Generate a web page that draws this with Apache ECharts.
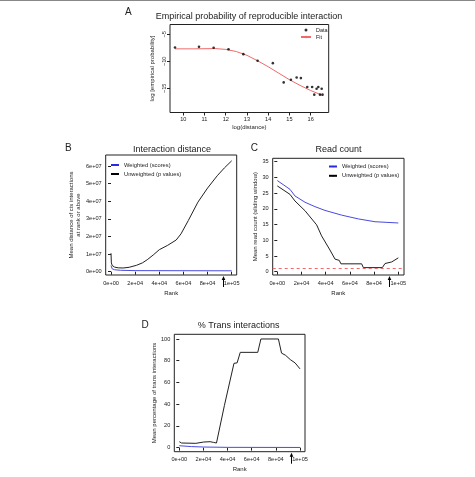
<!DOCTYPE html>
<html>
<head>
<meta charset="utf-8">
<script src="https://cdn.jsdelivr.net/npm/echarts@6/dist/echarts.min.js"></script>
<style>
  html, body { margin: 0; padding: 0; background: #fff; }
  #fig { width: 475px; height: 477px; }
</style>
</head>
<body>
<div id="fig"></div>
<script>
// --- A: empirical probability of reproducible interaction
var logDist = [9.61, 10.74, 11.43, 12.13, 12.83, 13.5, 14.22, 14.73, 15.07, 15.34, 15.54, 15.84, 16.07, 16.17, 16.28, 16.36, 16.44, 16.52, 16.56];
var logProb = [-7.45, -7.33, -7.5, -7.76, -8.68, -9.9, -10.34, -13.9, -13.4, -12.98, -13.1, -14.75, -14.75, -16.16, -15.06, -14.75, -16.16, -15.06, -16.16];
var fitDist = [9.61, 10.5, 11.5, 12.0, 12.5, 13.0, 13.5, 14.0, 14.5, 15.0, 15.5, 16.0, 16.56];
var fitProb = [-7.7, -7.7, -7.65, -7.8, -8.2, -8.9, -9.9, -11.0, -12.2, -13.4, -14.45, -15.4, -16.3];
var distTicks = [10, 11, 12, 13, 14, 15, 16];
var probTicks = [-15, -10, -5];

// --- B: interaction distance
var rankDistUnw = [0, 300, 1000, 3000, 6000, 10000, 15000, 21000, 26000, 30000, 35000, 40000, 47000, 54000, 58000, 64000, 72000, 80000, 88000, 94000, 100000];
var distUnw = [1.05e7, 5.0e6, 3.5e6, 2.6e6, 2.2e6, 2.1e6, 2.5e6, 3.6e6, 5.0e6, 6.8e6, 9.5e6, 1.25e7, 1.5e7, 1.8e7, 2.15e7, 2.9e7, 3.95e7, 4.75e7, 5.45e7, 5.9e7, 6.3e7];
var rankDistW = [0, 300, 1000, 3000, 8000, 20000, 100000];
var distW = [3.5e6, 2.5e6, 1.6e6, 1.1e6, 8e5, 6e5, 5e5];
var distTicksB = [0, 1e7, 2e7, 3e7, 4e7, 5e7, 6e7];
var distLabelsB = ['0e+00', '1e+07', '2e+07', '3e+07', '4e+07', '5e+07', '6e+07'];

// shared rank axis
var rankTicks = [0, 2e4, 4e4, 6e4, 8e4, 1e5];
var rankLabels = ['0e+00', '2e+04', '4e+04', '6e+04', '8e+04', '1e+05'];
var arrowRank = 92500;

// --- C: read count
var rankCountW = [0, 10500, 14600, 22900, 31100, 39400, 53200, 66900, 80700, 100000];
var countW = [29.0, 26.2, 24.1, 22.1, 20.7, 19.5, 18.0, 16.8, 15.9, 15.5];
var rankCountUnw = [0, 10500, 14600, 22900, 32500, 36600, 43500, 47700, 51200, 52600, 69700, 71100, 86800, 89000, 94500, 100000];
var countUnw = [27.3, 24.6, 22.5, 19.4, 14.9, 11.4, 6.9, 4.0, 3.6, 2.5, 2.5, 1.3, 1.3, 2.6, 3.1, 4.4];
var countTicks = [0, 5, 10, 15, 20, 25, 30, 35];
var readThreshold = 1;

// --- D: % trans interactions
var rankTransUnw = [0, 1800, 13700, 20300, 25500, 28200, 30800, 37400, 45300, 47900, 50500, 65000, 67600, 82100, 84700, 88000, 92000, 95900, 100000];
var transUnw = [5.5, 4.3, 4.0, 5.2, 5.5, 4.9, 4.3, 39, 77.6, 78, 87.7, 87.7, 100, 100, 87, 85, 81, 78, 72.5];
var rankTransW = [0, 10000, 20000, 40000, 100000];
var transW = [1.8, 1.0, 0.6, 0.3, 0.2];
var transTicks = [0, 20, 40, 60, 80, 100];

var FONT = '"Liberation Sans", Arial, sans-serif';
var INK = '#222';
var BLUE = '#4a4ae0';
var LEGEND_BLUE = '#2a2ae6';
var RED = '#ef6b6b';

function zip(a, b) {
    return a.map(function (v, i) { return [v, b[i]]; });
}

function axis(gi, min, max, ticks, labels, extra) {
    var ax = {
        gridIndex: gi,
        type: 'value',
        min: min,
        max: max,
        axisLine: { show: false },
        splitLine: { show: false },
        axisTick: { show: true, length: 3, customValues: ticks, lineStyle: { color: INK, width: 1 } },
        axisLabel: {
            customValues: ticks,
            fontSize: 5.6,
            fontFamily: FONT,
            color: INK,
            margin: 5,
            formatter: function (v) {
                var i = ticks.indexOf(v);
                return i >= 0 ? labels[i] : '';
            }
        },
        nameLocation: 'middle',
        nameTextStyle: { fontSize: 6, fontFamily: FONT, color: INK }
    };
    for (var k in extra) {
        if (k === 'axisLabel') {
            for (var j in extra[k]) ax.axisLabel[j] = extra[k][j];
        } else {
            ax[k] = extra[k];
        }
    }
    return ax;
}

function lineSeries(name, xi, x, y, color) {
    return {
        name: name,
        type: 'line',
        xAxisIndex: xi,
        yAxisIndex: xi,
        data: zip(x, y),
        symbol: 'none',
        showSymbol: false,
        lineStyle: { color: color, width: 1 },
        itemStyle: { color: color },
        z: 3
    };
}

var chart = echarts.init(document.getElementById('fig'), null, { renderer: 'canvas' });

var gridBase = { show: true, borderColor: INK, borderWidth: 1, backgroundColor: 'transparent', containLabel: false, outerBoundsMode: 'none' };
function grid(l, t, w, h) {
    var g = {};
    for (var k in gridBase) g[k] = gridBase[k];
    g.left = l; g.top = t; g.width = w; g.height = h;
    return g;
}

var probLabels = probTicks.map(function (v) { return String(v).replace('-', '\u2212'); });
var distLabels = distTicks.map(String);
var countLabels = countTicks.map(String);
var transLabels = transTicks.map(String);

var titleFont = '9px ' + FONT;
var letterFont = '10px ' + FONT;
function txt(s, x, y, font, align) {
    return { type: 'text', x: x, y: y, silent: true,
        style: { text: s, font: font, fill: INK, align: align || 'center', verticalAlign: 'middle' } };
}

var legendText = { fontSize: 5.75, fontFamily: FONT, color: INK, lineHeight: 7 };
var pairLegend = [
    { name: 'Weighted (scores)', itemStyle: { color: LEGEND_BLUE }, lineStyle: { color: LEGEND_BLUE } },
    { name: 'Unweighted (p values)', itemStyle: { color: '#000' }, lineStyle: { color: '#000' } }
];

var option = {
    animation: false,
    backgroundColor: '#fff',
    grid: [
        grid(170, 24.5, 158.7, 88),
        grid(105.7, 155, 131, 120),
        grid(272.7, 158.3, 131.3, 116.7),
        grid(174.3, 334.3, 130.7, 117.4)
    ],
    xAxis: [
        axis(0, 9.374, 16.85, distTicks, distLabels, { name: 'log(distance)', nameGap: 12, axisLabel: { margin: 4 } }),
        axis(1, -4400, 104150, rankTicks, rankLabels, { name: 'Rank', nameGap: 15 }),
        axis(2, -3800, 104700, rankTicks, rankLabels, { name: 'Rank', nameGap: 15 }),
        axis(3, -4140, 104140, rankTicks, rankLabels, { name: 'Rank', nameGap: 15 })
    ],
    yAxis: [
        axis(0, -19.46, -3.2, probTicks, probLabels, { name: 'log [empirical probability]', nameRotate: 90, nameGap: 15, axisLabel: { rotate: 90, margin: 3 } }),
        axis(1, -1.88e6, 6.63e7, distTicksB, distLabelsB, { name: 'Mean distance of cis interactions\nat rank or above', nameRotate: 90, nameGap: 24,
            nameTextStyle: { fontSize: 6, fontFamily: FONT, color: INK, lineHeight: 7 }, axisLabel: { margin: 4 } }),
        axis(2, -1.05, 36.08, countTicks, countLabels, { name: 'Mean read count (sliding window)', nameRotate: 90, nameGap: 12, axisLabel: { margin: 4 } }),
        axis(3, -3.7, 104.3, transTicks, transLabels, { name: 'Mean percentage of trans interactions', nameRotate: 90, nameGap: 17, axisLabel: { margin: 4 } })
    ],
    legend: [
        { data: ['Data', 'Fit'], left: 300, top: 27, orient: 'vertical', padding: 0, itemWidth: 10, itemHeight: 3, itemGap: 1,
          textStyle: { fontSize: 5.5, fontFamily: FONT, color: INK, lineHeight: 6 }, selectedMode: false },
        { data: pairLegend, left: 110, top: 161.5, orient: 'vertical', padding: 0,
          itemWidth: 8, itemHeight: 2, itemGap: 2, lineStyle: { width: 2 }, textStyle: legendText, selectedMode: false },
        { data: pairLegend, left: 328, top: 163, orient: 'vertical', padding: 0,
          itemWidth: 8, itemHeight: 2, itemGap: 2.3, lineStyle: { width: 2 }, textStyle: legendText, selectedMode: false }
    ],
    series: [
        {
            name: 'Data', type: 'scatter', xAxisIndex: 0, yAxisIndex: 0,
            data: zip(logDist, logProb), symbol: 'circle', symbolSize: 2.6,
            itemStyle: { color: '#000' }, z: 4
        },
        lineSeries('Fit', 0, fitDist, fitProb, RED),
        lineSeries('Weighted (scores)', 1, rankDistW, distW, BLUE),
        lineSeries('Unweighted (p values)', 1, rankDistUnw, distUnw, INK),
        (function () {
            var s = lineSeries('Weighted (scores)', 2, rankCountW, countW, BLUE);
            s.markLine = {
                silent: true, symbol: 'none', label: { show: false },
                lineStyle: { color: RED, type: [3, 3], width: 1 },
                data: [{ yAxis: readThreshold }]
            };
            return s;
        })(),
        lineSeries('Unweighted (p values)', 2, rankCountUnw, countUnw, INK),
        lineSeries('Weighted (scores)', 3, rankTransW, transW, BLUE),
        lineSeries('Unweighted (p values)', 3, rankTransUnw, transUnw, INK)
    ],
    graphic: [
        { type: 'line', silent: true, shape: { x1: 0, y1: 0.5, x2: 475, y2: 0.5 }, style: { stroke: '#888', lineWidth: 1 } },
        txt('A', 128.3, 12.7, letterFont),
        txt('Empirical probability of reproducible interaction', 249, 16.7, titleFont),
        txt('B', 68.3, 148.3, letterFont),
        txt('Interaction distance', 172, 150, titleFont),
        txt('C', 254.3, 148.3, letterFont),
        txt('Read count', 338.5, 150, titleFont),
        txt('D', 145, 325, letterFont),
        txt('% Trans interactions', 238.7, 325.7, titleFont)
    ]
};

chart.setOption(option);

// arrows under the rank axes marking the cutoff rank
var yMins = [null, -1.88e6, -1.05, -3.7];
var arrows = [];
[1, 2, 3].forEach(function (gi) {
    var p = chart.convertToPixel({ gridIndex: gi }, [arrowRank, yMins[gi]]);
    var x = Math.round(p[0]) + 0.5;
    var y = p[1];
    arrows.push({ type: 'line', silent: true, shape: { x1: x, y1: y + 12, x2: x, y2: y + 3 }, style: { stroke: '#000', lineWidth: 1 } });
    arrows.push({ type: 'polygon', silent: true, shape: { points: [[x, y + 1], [x - 1.8, y + 5], [x + 1.8, y + 5]] }, style: { fill: '#000' } });
});
chart.setOption({ graphic: option.graphic.concat(arrows) });
</script>
</body>
</html>
